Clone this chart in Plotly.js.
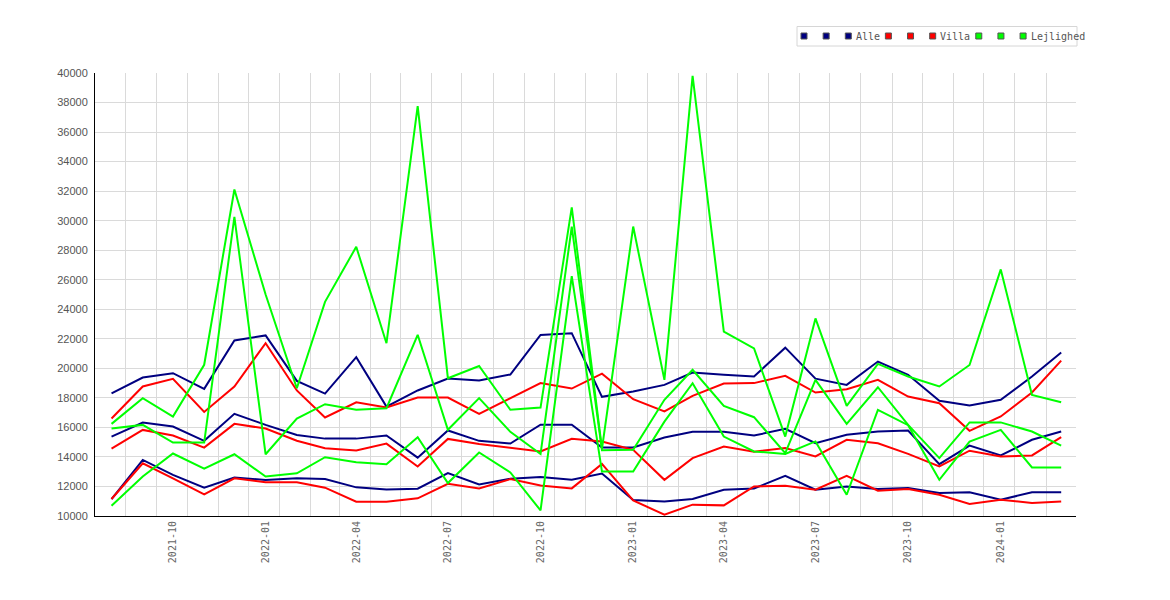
<!DOCTYPE html>
<html>
<head>
<meta charset="utf-8">
<script src="https://cdn.plot.ly/plotly-3.0.1.min.js"></script>
<style>body{margin:0;background:#fff}</style>
</head>
<body>
<div id="chart" style="width:1170px;height:600px"></div>
<script>
// monthly values, 2021-08 .. 2024-03
const months = [
  '2021-08-01','2021-09-01','2021-10-01','2021-11-01','2021-12-01',
  '2022-01-01','2022-02-01','2022-03-01','2022-04-01','2022-05-01','2022-06-01',
  '2022-07-01','2022-08-01','2022-09-01','2022-10-01','2022-11-01','2022-12-01',
  '2023-01-01','2023-02-01','2023-03-01','2023-04-01','2023-05-01','2023-06-01',
  '2023-07-01','2023-08-01','2023-09-01','2023-10-01','2023-11-01','2023-12-01',
  '2024-01-01','2024-02-01','2024-03-01'
];

const alleHigh = [18300,19380,19670,18610,21890,22230,19150,18290,20760,17410,18500,19310,19180,19580,22260,22380,18070,18430,18880,19720,19560,19450,21400,19300,18880,20460,19560,17800,17480,17870,19450,21070];
const alleMid  = [15380,16330,16060,15090,16920,16170,15490,15240,15240,15450,13950,15790,15090,14910,16180,16180,14640,14640,15320,15700,15700,15450,15900,14930,15500,15720,15790,13510,14770,14100,15160,15720];
const alleLow  = [11150,13800,12780,11920,12600,12440,12550,12510,11940,11790,11850,12900,12140,12520,12640,12460,12880,11080,10990,11150,11780,11860,12720,11780,12000,11830,11890,11550,11610,11100,11610,11610];

const villaHigh = [16600,18770,19290,17050,18770,21700,18500,16670,17700,17350,18020,18020,16920,17950,19000,18630,19640,17910,17080,18140,18970,19000,19490,18360,18590,19220,18090,17640,15770,16740,18360,20520];
const villaMid  = [14570,15830,15450,14630,16240,15920,15100,14590,14430,14900,13350,15220,14870,14600,14370,15230,15050,14480,12450,13920,14710,14350,14600,14030,15160,14930,14210,13360,14420,14030,14100,15340];
const villaLow  = [11150,13570,12550,11470,12550,12280,12280,11920,10970,10970,11200,12180,11870,12500,12070,11870,13530,11050,10090,10770,10720,12000,12050,11780,12720,11710,11830,11440,10810,11100,10880,10990];

const lejlHigh = [16240,17980,16730,20240,32110,25000,18650,24500,28230,21700,37750,19330,20160,17190,17340,30900,14550,29600,19220,39800,22480,21350,15380,23380,17460,20300,19450,18770,20230,26700,18200,17700];
const lejlMid  = [15920,16170,14970,14970,30260,14180,16600,17570,17190,17300,22270,15840,17980,15700,14200,29600,14450,14480,17870,19900,17460,16690,14260,19220,16240,18720,16170,13920,16340,16340,15720,14770];
const lejlLow  = [10700,12670,14230,13210,14180,12670,12890,13980,13640,13500,15330,12230,14300,12950,10380,26250,13010,13010,16390,18990,15380,14370,14200,15050,11440,17190,16150,12450,15040,15830,13290,13290];

const groups = ['Alle', 'Villa', 'Lejlighed'];
const colors = ['#000080', '#ff0000', '#00ff00'];
const series = [
  [alleHigh, alleMid, alleLow],
  [villaHigh, villaMid, villaLow],
  [lejlHigh, lejlMid, lejlLow]
];

let traces = [];
series.forEach((set, g) => {
  set.forEach((vals, k) => {
    traces.push({
      x: months,
      y: vals,
      type: 'scatter',
      mode: 'lines',
      name: k === 2 ? groups[g] : '',
      line: { color: colors[g], width: 2 },
      showlegend: false,
      hoverinfo: 'skip'
    });
  });
});

// hand-made legend box (plotly's own entries are too wide for blank names)
const W = 1170, H = 600;
const mar = { l: 95, r: 94, t: 73, b: 84 };
const px = (v) => (v - mar.l) / (W - mar.l - mar.r);
const py = (v) => (H - mar.b - v) / (H - mar.t - mar.b);

let shapes = [{
  type: 'rect', xref: 'paper', yref: 'paper',
  x0: px(797), x1: px(1077), y0: py(46), y1: py(26.5),
  line: { color: '#d6d6d6', width: 1 }, fillcolor: '#ffffff', layer: 'above'
}];
let annotations = [];
let sx = 804;
groups.forEach((name, g) => {
  for (let k = 0; k < 3; k++) {
    const cx = sx + k * 22.15;
    shapes.push({
      type: 'rect', xref: 'paper', yref: 'paper',
      x0: px(cx - 3), x1: px(cx + 3), y0: py(39), y1: py(33),
      line: { color: '#555555', width: 1 }, fillcolor: colors[g], layer: 'above'
    });
  }
  const tx = sx + 44.3 + 5.5;
  annotations.push({
    xref: 'paper', yref: 'paper', x: px(tx), y: py(36.5),
    xanchor: 'left', yanchor: 'middle', showarrow: false, text: name,
    font: { family: 'DejaVu Sans Mono', size: 10, color: '#555555' }
  });
  sx = tx + 1 + name.length * 6.02 + 9.5;
});

const layout = {
  width: W, height: H,
  margin: mar,
  paper_bgcolor: '#ffffff',
  plot_bgcolor: '#ffffff',
  showlegend: false,
  shapes: shapes,
  annotations: annotations,
  xaxis: {
    type: 'date',
    range: ['2021-07-15 14:00', '2024-03-15 17:00'],
    tick0: '2021-10-01',
    dtick: 'M3',
    tickformat: '%Y-%m',
    tickangle: -90,
    ticks: '',
    showgrid: false,
    minor: { dtick: 'M1', tick0: '2021-08-15', showgrid: true, gridcolor: '#dadada', gridwidth: 1, ticks: '' },
    showline: true,
    linecolor: '#000000',
    linewidth: 1,
    zeroline: false,
    tickfont: { family: 'DejaVu Sans Mono', size: 10, color: '#666666' }
  },
  yaxis: {
    range: [10000, 40000],
    tick0: 10000,
    dtick: 2000,
    tickformat: 'd',
    ticks: '',
    ticklabelstandoff: 4,
    showgrid: true,
    gridcolor: '#dadada',
    gridwidth: 1,
    showline: true,
    linecolor: '#000000',
    linewidth: 1,
    zeroline: false,
    tickfont: { family: 'Liberation Sans', size: 11, color: '#555555' }
  }
};

Plotly.newPlot('chart', traces, layout, { displayModeBar: false, staticPlot: true });
</script>
</body>
</html>
